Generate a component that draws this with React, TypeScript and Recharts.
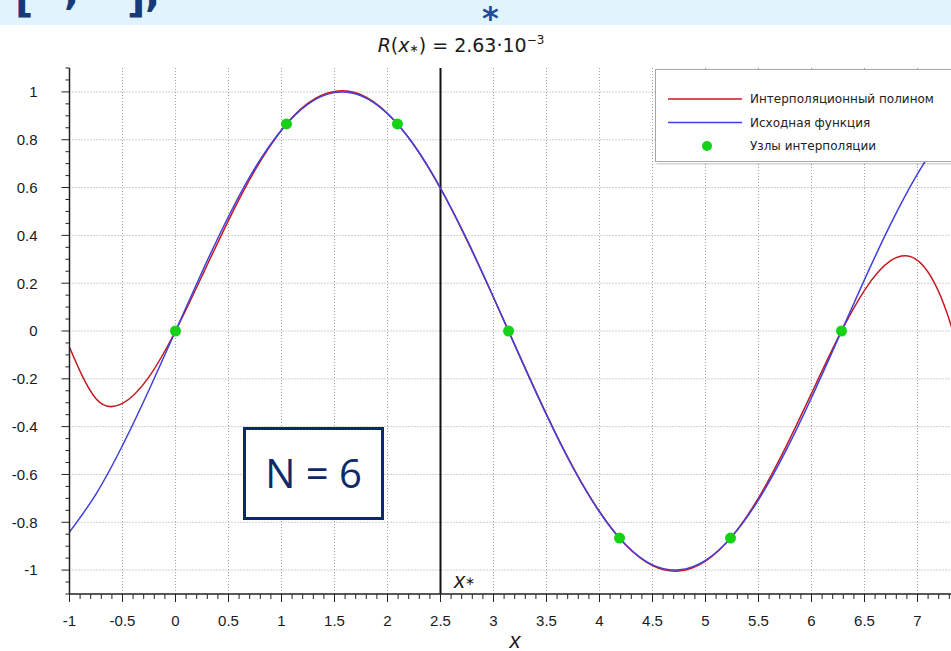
import { ComposedChart, Line, Scatter, XAxis, YAxis, ReferenceLine, Legend } from 'recharts';

// sample points of both curves (step 0.25)
const xValues = [
  -1, -0.75, -0.5, -0.25, 0, 0.25, 0.5, 0.75, 1, 1.25, 1.5, 1.75, 2, 2.25, 2.5, 2.75, 3, 3.25, 3.5,
  3.75, 4, 4.25, 4.5, 4.75, 5, 5.25, 5.5, 5.75, 6, 6.25, 6.5, 6.75, 7, 7.25, 7.5, 7.75,
];
// Исходная функция
const sourceValues = [
  -0.841, -0.682, -0.479, -0.247, 0, 0.247, 0.479, 0.682, 0.841, 0.949, 0.997, 0.984, 0.909, 0.778,
  0.598, 0.382, 0.141, -0.108, -0.351, -0.572, -0.757, -0.895, -0.978, -0.999, -0.959, -0.859, -0.706, -0.508,
  -0.279, -0.033, 0.215, 0.45, 0.657, 0.823, 0.938, 0.996,
];
// Интерполяционный полином
const polyValues = [
  -0.068, -0.283, -0.303, -0.192, 0, 0.23, 0.463, 0.673, 0.84, 0.953, 1.002, 0.988, 0.91, 0.777,
  0.596, 0.379, 0.14, -0.107, -0.348, -0.569, -0.755, -0.896, -0.981, -1.004, -0.963, -0.859, -0.698, -0.492,
  -0.261, -0.029, 0.17, 0.295, 0.295, 0.11, -0.33, -1.108,
];
// Узлы интерполяции
const nodeX = [0, 1.047, 2.094, 3.142, 4.189, 5.236, 6.283];
const nodeY = [0, 0.866, 0.866, 0, -0.866, -0.866, 0];

const xTickLabels = [-1, -0.5, 0, 0.5, 1, 1.5, 2, 2.5, 3, 3.5, 4, 4.5, 5, 5.5, 6, 6.5, 7];
const yTickLabels = [-1, -0.8, -0.6, -0.4, -0.2, 0, 0.2, 0.4, 0.6, 0.8, 1];
const xGridLines = xTickLabels.filter((v) => v > -1);
const yGridLines = yTickLabels;
const xTicks = Array.from({ length: 86 }, (_, i) => Math.round((-1 + i * 0.1) * 10) / 10);
const yTicks = Array.from({ length: 45 }, (_, i) => Math.round((-1.1 + i * 0.05) * 100) / 100);

const legendItems = [
  { label: 'Интерполяционный полином', color: '#c41a22', kind: 'line' },
  { label: 'Исходная функция', color: '#4040dc', kind: 'line' },
  { label: 'Узлы интерполяции', color: '#16d216', kind: 'dot' },
];

const xStar = 2.5;

const polyData = xValues.map((x, i) => ({ x, y: polyValues[i] }));
const sourceData = xValues.map((x, i) => ({ x, y: sourceValues[i] }));
const nodeData = nodeX.map((x, i) => ({ x, y: nodeY[i] }));

const AXIS = '#222';
const LABEL_FONT = '"Liberation Sans", Arial, sans-serif';

const isMultiple = (v: number, step: number) => Math.abs(v / step - Math.round(v / step)) < 1e-6;

const XTick = (props: any) => {
  const { x, y, payload } = props;
  const v = payload.value;
  const major = isMultiple(v, 0.5);
  const labelled = xTickLabels.includes(v);
  return (
    <g>
      <line x1={x} x2={x} y1={y} y2={y + (major ? 8 : 5)} stroke={AXIS} strokeWidth={1} />
      {labelled && (
        <text x={x} y={y + 32} textAnchor="middle" fontSize={15} fontFamily={LABEL_FONT} fill="#1a1a1a">
          {String(v)}
        </text>
      )}
    </g>
  );
};

const YTick = (props: any) => {
  const { x, y, payload } = props;
  const v = payload.value;
  const major = isMultiple(v, 0.2);
  const labelled = yTickLabels.includes(v);
  return (
    <g>
      <line x1={x - (major ? 8 : 4)} x2={x} y1={y} y2={y} stroke={AXIS} strokeWidth={1} />
      {labelled && (
        <text x={x - 32} y={y} dy="0.36em" textAnchor="end" fontSize={15} fontFamily={LABEL_FONT} fill="#1a1a1a">
          {String(v)}
        </text>
      )}
    </g>
  );
};

const renderLegend = () => (
  <svg width={300} height={94} style={{ display: 'block' }}>
    <rect x={0.5} y={0.5} width={299} height={92} fill="#fff" stroke="#a8a8a8" />
    {legendItems.map((item, i) => {
      const cy = 30 + i * 23.5;
      return (
        <g key={item.label}>
          {item.kind === 'line' ? (
            <line x1={13} x2={87} y1={cy} y2={cy} stroke={item.color} strokeWidth={1.5} />
          ) : (
            <circle cx={52} cy={cy} r={5} fill={item.color} />
          )}
          <text x={95} y={cy} dy="0.35em" fontSize={12} fontFamily='"DejaVu Sans", sans-serif' fill="#222">
            {item.label}
          </text>
        </g>
      );
    })}
  </svg>
);

const NodeDot = (props: any) => <circle cx={props.cx} cy={props.cy} r={5.5} fill="#16d216" />;

export default function App() {
  return (
    <div style={{ position: 'absolute', left: 0, top: 0, width: 951, height: 651, overflow: 'hidden', background: '#fff' }}>
      <ComposedChart width={980} height={651} margin={{ top: 68, right: 9.5, bottom: 0, left: 0 }}>
        <XAxis
          type="number"
          dataKey="x"
          domain={[-1, 7.5]}
          allowDataOverflow
          ticks={xTicks}
          interval={0}
          tick={<XTick />}
          tickLine={false}
          tickSize={0}
          tickMargin={0}
          height={57}
          axisLine={{ stroke: AXIS, strokeWidth: 1.5 }}
        />
        <YAxis
          type="number"
          dataKey="y"
          domain={[-1.1, 1.1]}
          allowDataOverflow
          ticks={yTicks}
          interval={0}
          tick={<YTick />}
          tickLine={false}
          tickSize={0}
          tickMargin={0}
          width={69.5}
          axisLine={{ stroke: AXIS, strokeWidth: 1.5 }}
        />
        {xGridLines.map((v) => (
          <ReferenceLine key={'gx' + v} x={v} stroke="#a0a0a0" strokeDasharray="1 2" />
        ))}
        {yGridLines.map((v) => (
          <ReferenceLine key={'gy' + v} y={v} stroke="#a0a0a0" strokeDasharray="1 2" />
        ))}
        <ReferenceLine x={xStar} stroke="#111" strokeWidth={2} />
        <Line
          data={polyData}
          dataKey="y"
          type="natural"
          stroke="#c41a22"
          strokeWidth={1.5}
          dot={false}
          isAnimationActive={false}
        />
        <Line
          data={sourceData}
          dataKey="y"
          type="natural"
          stroke="#4040dc"
          strokeWidth={1.5}
          dot={false}
          isAnimationActive={false}
        />
        <Scatter data={nodeData} dataKey="y" shape={<NodeDot />} isAnimationActive={false} />
        <Legend
          layout="horizontal"
          verticalAlign="middle"
          align="center"
          content={renderLegend}
          wrapperStyle={{ position: 'absolute', left: 655, top: 69, width: 300, height: 94, boxShadow: '1px 1px 2px rgba(0,0,0,0.25)' }}
        />
      </ComposedChart>

      <svg width={951} height={651} style={{ position: 'absolute', left: 0, top: 0, pointerEvents: 'none' }}>
        <rect x={0} y={0} width={951} height={25} fill="#e1f3fb" />
        <g fill="#173a78" fontFamily='"DejaVu Sans", sans-serif' fontWeight="bold" fontSize={40}>
          <text x={15} y={12}>[</text>
          <text x={64} y={4}>,</text>
          <text x={127} y={12}>]</text>
          <text x={145} y={6}>,</text>
        </g>
        <text x={482} y={29} fill="#1f4e99" fontFamily='"DejaVu Sans", sans-serif' fontWeight="bold" fontSize={32}>
          *
        </text>

        <text x={461} y={52} textAnchor="middle" fontSize={19} fontFamily='"DejaVu Sans", sans-serif' fill="#1a1a1a">
          <tspan fontStyle="italic">R</tspan>
          <tspan>(</tspan>
          <tspan fontStyle="italic">x</tspan>
          <tspan fontSize={11}>∗</tspan>
          <tspan>) = 2.63·10</tspan>
          <tspan fontSize={12} dy={-8}>−3</tspan>
        </text>

        <text x={454} y={588} fontFamily={LABEL_FONT} fill="#1a1a1a">
          <tspan fontStyle="italic" fontSize={22}>x</tspan>
          <tspan fontSize={12} dy={-3}>∗</tspan>
        </text>
        <text x={515} y={648} textAnchor="middle" fontFamily={LABEL_FONT} fontStyle="italic" fontSize={22} fill="#1a1a1a">
          x
        </text>

        <rect x={244.5} y={428.5} width={138} height={90} fill="#fff" stroke="#0c2a6a" strokeWidth={3} />
        <text x={313.5} y={488} textAnchor="middle" fontSize={40} fontFamily='"Open Sans", "Noto Sans", sans-serif' fill="#0c2a6a">
          N = 6
        </text>
      </svg>
    </div>
  );
}
